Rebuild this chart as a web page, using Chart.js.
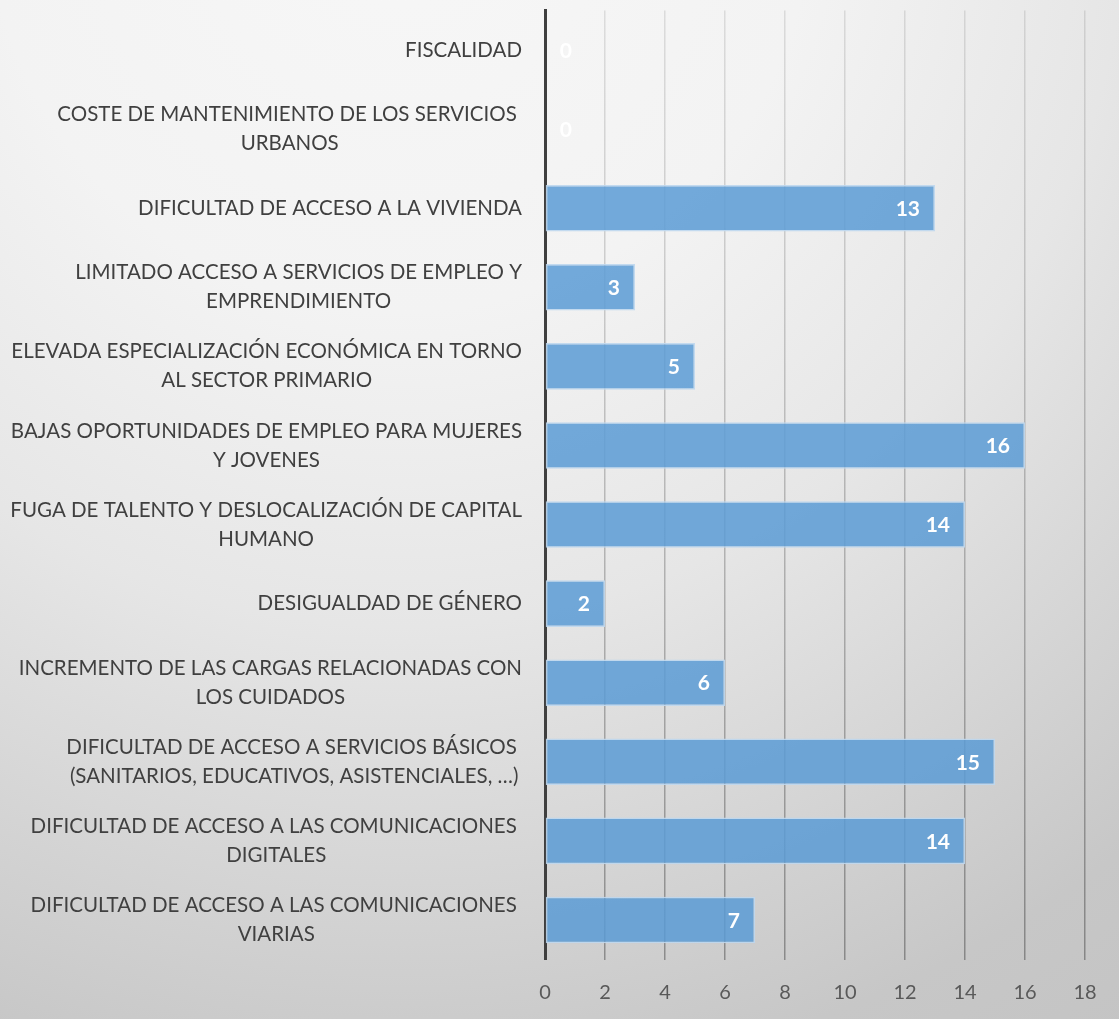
<!DOCTYPE html>
<html>
<head>
<meta charset="utf-8">
<script src="https://cdn.jsdelivr.net/npm/chart.js@4"></script>
<style>
  html, body { margin: 0; padding: 0; }
  body {
    width: 1119px; height: 1019px; overflow: hidden;
    background: radial-gradient(circle at 400px -100px, #f7f7f7 0px, #f3f3f3 412px, #e6e6e6 726px, #c7c7c7 1194px, #c3c3c3 1400px);
  }
  #wrap { position: relative; width: 1119px; height: 1019px; }
</style>
</head>
<body>
<div id="wrap"><canvas id="bar-chart"></canvas></div>
<script>
// categories, top to bottom (each entry = lines of the label)
const categories = [
  ['FISCALIDAD'],
  ['COSTE DE MANTENIMIENTO DE LOS SERVICIOS ', 'URBANOS'],
  ['DIFICULTAD DE ACCESO A LA VIVIENDA'],
  ['LIMITADO ACCESO A SERVICIOS DE EMPLEO Y', 'EMPRENDIMIENTO'],
  ['ELEVADA ESPECIALIZACIÓN ECONÓMICA EN TORNO', 'AL SECTOR PRIMARIO'],
  ['BAJAS OPORTUNIDADES DE EMPLEO PARA MUJERES', 'Y JOVENES'],
  ['FUGA DE TALENTO Y DESLOCALIZACIÓN DE CAPITAL', 'HUMANO'],
  ['DESIGUALDAD DE GÉNERO'],
  ['INCREMENTO DE LAS CARGAS RELACIONADAS CON', 'LOS CUIDADOS'],
  ['DIFICULTAD DE ACCESO A SERVICIOS BÁSICOS ', '(SANITARIOS, EDUCATIVOS, ASISTENCIALES, …)'],
  ['DIFICULTAD DE ACCESO A LAS COMUNICACIONES ', 'DIGITALES'],
  ['DIFICULTAD DE ACCESO A LAS COMUNICACIONES ', 'VIARIAS'],
];
const counts = [0, 0, 13, 3, 5, 16, 14, 2, 6, 15, 14, 7];
const xTicks = [0, 2, 4, 6, 8, 10, 12, 14, 16, 18];

const FONT = 'Lato, "Open Sans", sans-serif';

// category labels: block right-aligned to the axis, lines centred inside the block
const categoryLabels = {
  id: 'categoryLabels',
  afterDraw(chart) {
    const ctx = chart.ctx;
    const y = chart.scales.y;
    const rightEdge = chart.chartArea.left - 23;
    ctx.save();
    ctx.font = '20.5px ' + FONT;
    ctx.fillStyle = '#404040';
    ctx.textAlign = 'center';
    ctx.textBaseline = 'middle';
    const lineH = 29;
    categories.forEach((lines, i) => {
      const w = Math.max(...lines.map(l => ctx.measureText(l).width));
      const cx = rightEdge - w / 2;
      const cy = y.getPixelForTick(i);
      const top = cy - (lines.length - 1) * lineH / 2;
      lines.forEach((l, k) => ctx.fillText(l, cx, top + k * lineH));
    });
    ctx.restore();
  }
};

// value labels inside the bar end, white bold
const valueLabels = {
  id: 'valueLabels',
  afterDatasetsDraw(chart) {
    const ctx = chart.ctx;
    const meta = chart.getDatasetMeta(0);
    ctx.save();
    ctx.font = 'bold 21px ' + FONT;
    ctx.fillStyle = '#ffffff';
    ctx.textAlign = 'right';
    ctx.textBaseline = 'middle';
    meta.data.forEach((bar, i) => {
      const x = Math.max(bar.x - 15, bar.base + 27);
      ctx.fillText(String(counts[i]), x, bar.y + 1);
    });
    ctx.restore();
  }
};

const ctx = document.getElementById('bar-chart').getContext('2d');
const chart = new Chart(ctx, {
  type: 'bar',
  data: {
    labels: categories,
    datasets: [
      {
        label: 'Respuestas',
        data: counts,
        backgroundColor: 'rgba(91, 155, 213, 0.85)',
        borderColor: 'rgba(190, 215, 238, 0.9)',
        borderWidth: 1.5,
        borderSkipped: false,
        categoryPercentage: 0.59,
        barPercentage: 1,
      },
    ],
  },
  options: {
    indexAxis: 'y',
    responsive: true,
    maintainAspectRatio: false,
    animation: false,
    layout: { padding: { left: 0, right: 34, top: 10.5, bottom: 0 } },
    plugins: {
      legend: { display: false },
      tooltip: { enabled: false },
    },
    scales: {
      x: {
        min: 0,
        max: 18,
        afterBuildTicks(scale) {
          scale.ticks = xTicks.map(v => ({ value: v }));
        },
        afterFit(scale) { scale.height = 59.5; },
        grid: {
          drawTicks: false,
          lineWidth: 1.5,
          color(c) {
            const area = c.chart.chartArea;
            if (!area) return 'rgba(0,0,0,0.2)';
            const g = c.chart.ctx.createLinearGradient(0, area.top, 0, area.bottom);
            g.addColorStop(0, 'rgba(0,0,0,0.10)');
            g.addColorStop(1, 'rgba(0,0,0,0.32)');
            return g;
          },
        },
        border: { display: false },
        ticks: {
          padding: 21,
          color: '#595959',
          font: { family: FONT, size: 20 },
        },
      },
      y: {
        z: 1,
        afterFit(scale) { scale.width = 545; },
        grid: { display: false, drawTicks: false },
        border: { display: true, color: '#3f3f3f', width: 3 },
        ticks: { display: false },
      },
    },
  },
  plugins: [categoryLabels, valueLabels],
});
</script>
</body>
</html>
